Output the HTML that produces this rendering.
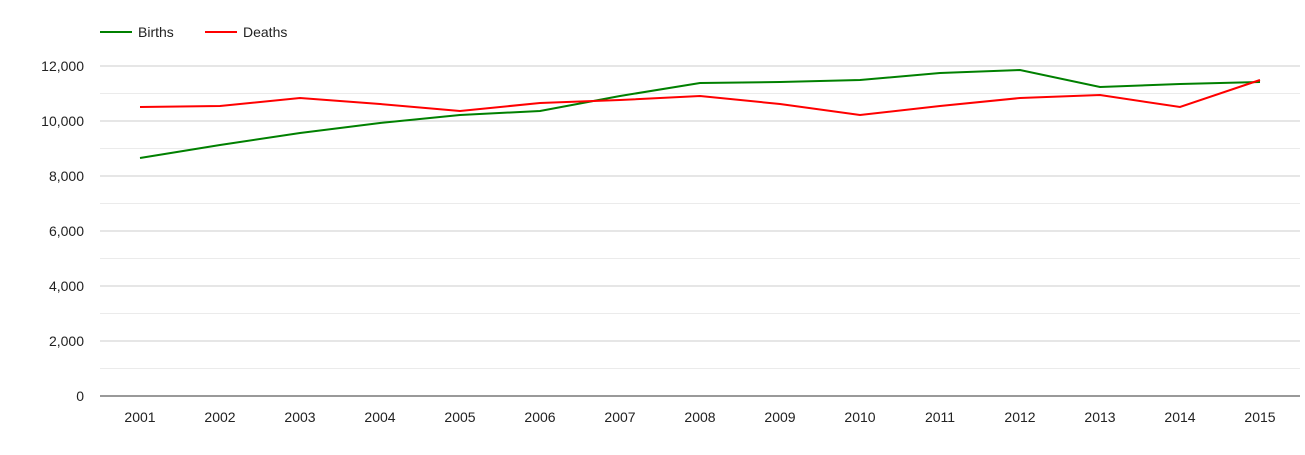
<!DOCTYPE html>
<html><head><meta charset="utf-8"><style>
body{margin:0;background:#fff;font-family:"Liberation Sans",Arial,sans-serif;}
svg text{font-family:"Liberation Sans",Arial,sans-serif;font-size:14px;fill:#222;}
</style></head><body>
<svg id="chart" width="1305" height="450">
<g>
<g><line x1="100" y1="32" x2="132" y2="32" stroke="#008000" stroke-width="2"/><text x="138" y="37">Births</text></g>
<g><line x1="205" y1="32" x2="237" y2="32" stroke="#ff0000" stroke-width="2"/><text x="243" y="37">Deaths</text></g>
</g>
<g id="grid"></g>
<g id="yaxis"></g>
<g id="xaxis"></g>
<g id="series"></g>
</svg>
<script>
const years=["2001","2002","2003","2004","2005","2006","2007","2008","2009","2010","2011","2012","2013","2014","2015"];
const births=[8655,9127,9564,9927,10218,10364,10909,11382,11418,11491,11745,11855,11236,11345,11418];
const deaths=[10509,10545,10836,10618,10364,10655,10764,10909,10618,10218,10545,10836,10945,10509,11491];
const yTicks=[0,2000,4000,6000,8000,10000,12000];
const NS="http://www.w3.org/2000/svg";
const x0=100,x1=1300,yBase=396,yTop=66,yMax=12000;
function xs(i){return x0+(x1-x0)/years.length*(i+0.5);}
function ys(v){return yBase-(yBase-yTop)*v/yMax;}
function mk(t,a,p){const e=document.createElementNS(NS,t);for(const k in a)e.setAttribute(k,a[k]);p.appendChild(e);return e;}
const grid=document.getElementById('grid'),ya=document.getElementById('yaxis'),xa=document.getElementById('xaxis'),se=document.getElementById('series');
for(let v=1000;v<=yMax;v+=1000){
 const l=mk('line',{x1:x0,x2:x1,y1:ys(v),y2:ys(v),stroke:v%2000?'#ebebeb':'#cccccc','stroke-width':1},grid);
 
 
}
yTicks.forEach(v=>{
 const t=mk('text',{x:84,y:ys(v)+5,'text-anchor':'end'},ya);t.textContent=v.toLocaleString('en-US');
 
 
});
const base=mk('line',{x1:x0,x2:x1,y1:yBase,y2:yBase,stroke:'#333','stroke-width':1},xa);


years.forEach((y,i)=>{
 const t=mk('text',{x:xs(i),y:422,'text-anchor':'middle'},xa);t.textContent=y;
 
 
});
[[births,'#008000','births-line'],[deaths,'#ff0000','deaths-line']].forEach(([d,c,n])=>{
 const p=mk('polyline',{points:d.map((v,i)=>xs(i)+','+ys(v)).join(' '),fill:'none',stroke:c,'stroke-width':2},se);
 
 
});
</script>
</body></html>
